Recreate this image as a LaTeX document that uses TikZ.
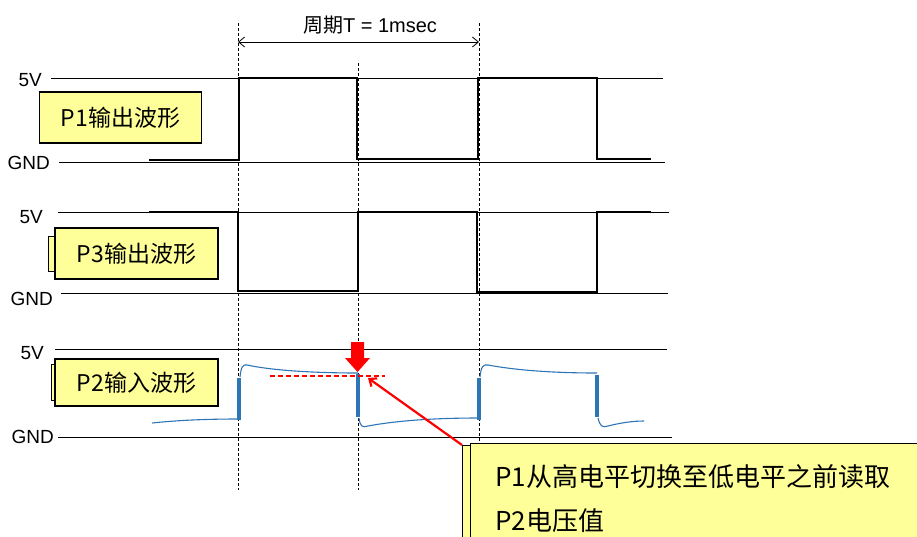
\documentclass[tikz,border=0pt]{standalone}
\usepackage{fontspec}
\setmainfont{Liberation Sans}
\newfontfamily\cjk{Noto Sans CJK SC}
\usetikzlibrary{arrows.meta,positioning}
\definecolor{noteyellow}{RGB}{255,255,153}
\definecolor{waveblue}{RGB}{46,117,182}

\begin{document}
\begin{tikzpicture}[%
    x=1pt, y=-1pt,                          % work in picture pixels, y down
    >={Straight Barb[length=6pt,width=10pt]},
    node distance=9pt,
    ]
% -------------------------------------------------
% Styles for levels, signals and the yellow tags
\tikzset{
  lvl/.style={draw, line width=0.8pt},
  sig/.style={draw, line width=2.8pt, line join=miter},
  guide/.style={draw, line width=0.7pt, dash pattern=on 3pt off 2pt},
  inwave/.style={draw=waveblue, line width=1.1pt},
  inedge/.style={draw=waveblue, line width=3.6pt},
  tag/.style={draw, line width=1.2pt, fill=noteyellow, minimum width=162pt,
    font=\cjk\fontsize{23}{26}\selectfont},
  tabbox/.style={draw, line width=0.8pt, fill=noteyellow, inner sep=0pt},
  vl/.style={font=\fontsize{19}{21}\selectfont, inner sep=0pt},
  notetext/.style={font=\cjk\fontsize{26}{29}\selectfont, inner sep=0pt, anchor=base west},
  readarrow/.style={draw=red, line width=2.2pt, ->}
}
\useasboundingbox (0,0) rectangle (917,536);
% -------------------------------------------------
% Level lines and their labels
\coordinate (p1hi) at (51,78);  \coordinate (p1lo) at (59,162);
\coordinate (p3hi) at (58,212); \coordinate (p3lo) at (61,293);
\coordinate (p2hi) at (55,349); \coordinate (p2lo) at (58,437);
\draw[lvl] (p1hi) -- (663,78);  \draw[lvl] (p1lo) -- (665,162);
\draw[lvl] (p3hi) -- (669,212); \draw[lvl] (p3lo) -- (668,293);
\draw[lvl] (p2hi) -- (667,349); \draw[lvl] (p2lo) -- (672,437);
\node [vl, left=of p1hi, yshift=-2pt] (p1v) {5V};
\node [vl, left=of p1lo, yshift=-1pt] (p1g) {GND};
\node [vl, left=15pt of p3hi, yshift=-5pt] (p3v) {5V};
\node [vl, left=8pt of p3lo, yshift=-6pt] (p3g) {GND};
\node [vl, left=11pt of p2hi, yshift=-4pt] (p2v) {5V};
\node [vl, left=4pt of p2lo] (p2g) {GND};

% Period guides
\coordinate (t0) at (238,42);
\coordinate (t1) at (479,42);
\draw[guide] (238,23) -- (238,490);
\draw[guide] (358,63) -- (358,490);
\draw[guide] (479,23) -- (479,490);
\draw[<->, line width=0.8pt] (t0) -- (t1);
\node [font=\fontsize{20}{22}\selectfont, inner sep=0pt] (period) at (370,25)
  {{\cjk 周期}T = 1msec};

% -------------------------------------------------
% P1 and P3 outputs
\draw[sig] (149,160) -- (239,160) -- (239,78) -- (357,78) -- (357,159)
  -- (478,159) -- (478,78) -- (597,78) -- (597,159) -- (651,159);
\draw[sig] (149,212) -- (238,212) -- (238,291) -- (358,291) -- (358,212)
  -- (477,212) -- (477,292) -- (597,292) -- (597,212) -- (651,212);

% P2 input, with overshoot after each edge
\draw[inwave] (152,423) .. controls (180,420) and (210,419) .. (238,419);
\draw[inwave] (240,377) .. controls (241,367) and (243,364) .. (247,365)
  .. controls (275,371) and (320,373) .. (358,373);
\draw[inwave] (359,418) .. controls (360,426) and (362,428) .. (368,426)
  .. controls (400,420) and (440,418) .. (479,418);
\draw[inwave] (480,377) .. controls (481,367) and (483,364) .. (488,365)
  .. controls (520,371) and (560,373) .. (597,373);
\draw[inwave] (598,418) .. controls (600,426) and (602,428) .. (608,426)
  .. controls (620,423) and (632,421) .. (644,421);
\draw[inedge] (239,420) -- (239,378);
\draw[inedge] (358,374) -- (358,417);
\draw[inedge] (479,420) -- (479,378);
\draw[inedge] (597,375) -- (597,417);

% read point
\draw[red, line width=1.2pt, dash pattern=on 5pt off 3pt] (270,376) -- (385,376);
\fill[red] (351,342) -- (364,342) -- (364,358) -- (370,358) -- (357.5,372)
  -- (345,358) -- (351,358) -- cycle;
\coordinate (readpt) at (368,378);

% -------------------------------------------------
% Tags
\node [tag, minimum height=51pt] (p1tag) at (120.5,117.5) {P1输出波形};
\node [tabbox, minimum width=8pt, minimum height=35pt] (p3tab) at (52,253.5) {};
\node [tag, minimum height=51pt, minimum width=163pt] (p3tag) at (136.5,253.5) {P3输出波形};
\node [tabbox, minimum width=5pt, minimum height=36pt] (p2tab) at (54,382) {};
\node [tag, minimum height=47pt, minimum width=163pt] (p2tag) at (136.5,382.5) {P2输入波形};

% Note box, running off the page
\node [tabbox, anchor=north west, minimum width=10pt, minimum height=110pt] (notetab) at (462,445) {};
\node [tabbox, line width=1.4pt, anchor=north west, minimum width=470pt,
  minimum height=110pt] (note) at (470,443) {};
\node [notetext] (note1) at (495,486.5) {P1从高电平切换至低电平之前读取};
\node [notetext] (note2) at (495,530.5) {P2电压值};

\draw[readarrow] (notetab.north west) -- (readpt);
% -------------------------------------------------
\end{tikzpicture}
\end{document}
